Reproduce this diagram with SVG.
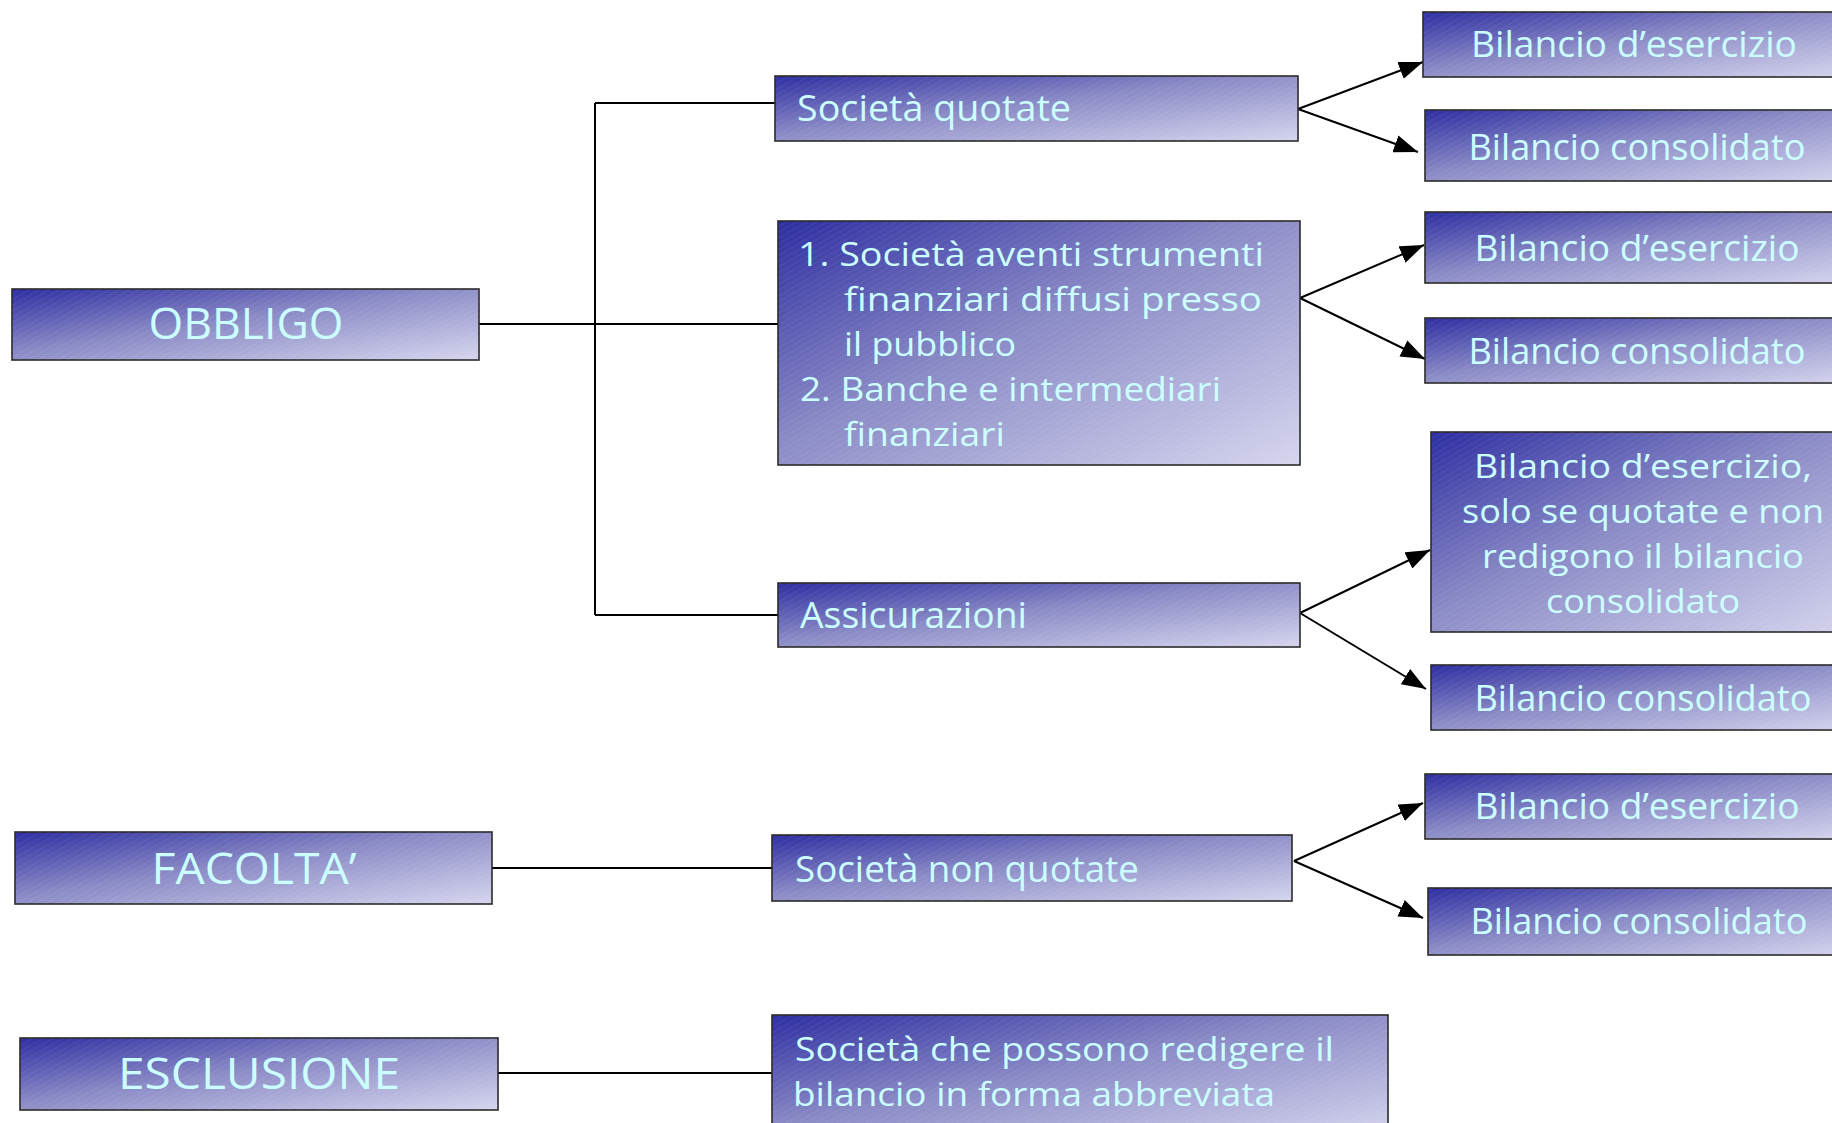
<svg xmlns="http://www.w3.org/2000/svg" width="1832" height="1123" viewBox="0 0 1832 1123">
<defs>
<linearGradient id="g" x1="0" y1="0" x2="1" y2="1">
<stop offset="0" stop-color="#2e2ea2"/>
<stop offset="0.45" stop-color="#8a8ac6"/>
<stop offset="1" stop-color="#d6d6ef"/>
</linearGradient>
<pattern id="tex" width="5" height="5" patternUnits="userSpaceOnUse" patternTransform="rotate(-30)">
<line x1="0" y1="0" x2="5" y2="0" stroke="#ffffff" stroke-opacity="0.08" stroke-width="1.5"/>
</pattern>
<marker id="arr" markerUnits="userSpaceOnUse" markerWidth="24" markerHeight="18" refX="24" refY="9" orient="auto">
<path d="M0,0 L24,9 L0,18 z" fill="#000"/>
</marker>
</defs>
<style>
.box{fill:url(#g);stroke:#2a2a2a;stroke-width:1.6}
.tx{fill:url(#tex);stroke:none}
text{font-family:"Open Sans","DejaVu Sans",sans-serif;fill:#ccffff;font-size:36px}
.big{font-size:43px}
.m{font-size:32.5px}
.c{text-anchor:middle}
.ln{fill:none;stroke:#000;stroke-width:2}
.ar{fill:none;stroke:#000;stroke-width:2;marker-end:url(#arr)}
</style>
<rect width="1832" height="1123" fill="#ffffff"/>

<g id="connectors">
<path class="ln" d="M479,324 H595 M595,103 V615 M595,103 H775 M595,324 H778 M595,615 H778"/>
<path class="ln" d="M492,868 H772"/>
<path class="ln" d="M498,1073 H772"/>
<path class="ar" d="M1298,109 L1423,62"/>
<path class="ar" d="M1298,109 L1418,152"/>
<path class="ar" d="M1300,298 L1424,245"/>
<path class="ar" d="M1300,298 L1425,359"/>
<path class="ar" d="M1300,613 L1430,550"/>
<path class="ar" d="M1300,613 L1426,689"/>
<path class="ar" d="M1294,861 L1423,803"/>
<path class="ar" d="M1294,861 L1423,918"/>
</g>

<g id="obbligo">
<rect class="box" x="12" y="289" width="467" height="71"/><rect class="tx" x="12" y="289" width="467" height="71"/>
<text class="big c" x="246" y="339" textLength="195" lengthAdjust="spacingAndGlyphs">OBBLIGO</text>
</g>
<g id="facolta">
<rect class="box" x="15" y="832" width="477" height="72"/><rect class="tx" x="15" y="832" width="477" height="72"/>
<text class="big c" x="254" y="884" textLength="205" lengthAdjust="spacingAndGlyphs">FACOLTA’</text>
</g>
<g id="esclusione">
<rect class="box" x="20" y="1038" width="478" height="72"/><rect class="tx" x="20" y="1038" width="478" height="72"/>
<text class="big c" x="259" y="1089" textLength="282" lengthAdjust="spacingAndGlyphs">ESCLUSIONE</text>
</g>

<g id="quotate">
<rect class="box" x="775" y="76" width="523" height="65"/><rect class="tx" x="775" y="76" width="523" height="65"/>
<text x="797" y="121" textLength="274" lengthAdjust="spacingAndGlyphs">Società quotate</text>
</g>
<g id="strumenti">
<rect class="box" x="778" y="221" width="522" height="244"/><rect class="tx" x="778" y="221" width="522" height="244"/>
<text class="m" x="798" y="266" textLength="466" lengthAdjust="spacingAndGlyphs">1. Società aventi strumenti</text>
<text class="m" x="844" y="311" textLength="418" lengthAdjust="spacingAndGlyphs">finanziari diffusi presso</text>
<text class="m" x="844" y="356" textLength="172" lengthAdjust="spacingAndGlyphs">il pubblico</text>
<text class="m" x="800" y="401" textLength="421" lengthAdjust="spacingAndGlyphs">2. Banche e intermediari</text>
<text class="m" x="844" y="446" textLength="161" lengthAdjust="spacingAndGlyphs">finanziari</text>
</g>
<g id="assicurazioni">
<rect class="box" x="778" y="583" width="522" height="64"/><rect class="tx" x="778" y="583" width="522" height="64"/>
<text x="800" y="628" textLength="227" lengthAdjust="spacingAndGlyphs">Assicurazioni</text>
</g>
<g id="nonquotate">
<rect class="box" x="772" y="835" width="520" height="66"/><rect class="tx" x="772" y="835" width="520" height="66"/>
<text x="795" y="882" textLength="344" lengthAdjust="spacingAndGlyphs">Società non quotate</text>
</g>
<g id="abbreviata">
<rect class="box" x="772" y="1015" width="616" height="124"/><rect class="tx" x="772" y="1015" width="616" height="124"/>
<text class="m" x="795" y="1061" textLength="539" lengthAdjust="spacingAndGlyphs">Società che possono redigere il</text>
<text class="m" x="793" y="1106" textLength="482" lengthAdjust="spacingAndGlyphs">bilancio in forma abbreviata</text>
</g>

<g id="b1">
<rect class="box" x="1423" y="12" width="430" height="65"/><rect class="tx" x="1423" y="12" width="430" height="65"/>
<text class="c" x="1634" y="57" textLength="326" lengthAdjust="spacingAndGlyphs">Bilancio d’esercizio</text>
</g>
<g id="b2">
<rect class="box" x="1425" y="110" width="430" height="71"/><rect class="tx" x="1425" y="110" width="430" height="71"/>
<text class="c" x="1637" y="160" textLength="337" lengthAdjust="spacingAndGlyphs">Bilancio consolidato</text>
</g>
<g id="b3">
<rect class="box" x="1425" y="212" width="430" height="71"/><rect class="tx" x="1425" y="212" width="430" height="71"/>
<text class="c" x="1637" y="261" textLength="325" lengthAdjust="spacingAndGlyphs">Bilancio d’esercizio</text>
</g>
<g id="b4">
<rect class="box" x="1425" y="318" width="430" height="65"/><rect class="tx" x="1425" y="318" width="430" height="65"/>
<text class="c" x="1637" y="364" textLength="337" lengthAdjust="spacingAndGlyphs">Bilancio consolidato</text>
</g>
<g id="b5">
<rect class="box" x="1431" y="432" width="430" height="200"/><rect class="tx" x="1431" y="432" width="430" height="200"/>
<text class="m c" x="1643" y="478" textLength="338" lengthAdjust="spacingAndGlyphs">Bilancio d’esercizio,</text>
<text class="m c" x="1643" y="523" textLength="362" lengthAdjust="spacingAndGlyphs">solo se quotate e non</text>
<text class="m c" x="1643" y="568" textLength="322" lengthAdjust="spacingAndGlyphs">redigono il bilancio</text>
<text class="m c" x="1643" y="613" textLength="194" lengthAdjust="spacingAndGlyphs">consolidato</text>
</g>
<g id="b6">
<rect class="box" x="1431" y="665" width="430" height="65"/><rect class="tx" x="1431" y="665" width="430" height="65"/>
<text class="c" x="1643" y="711" textLength="337" lengthAdjust="spacingAndGlyphs">Bilancio consolidato</text>
</g>
<g id="b7">
<rect class="box" x="1425" y="774" width="430" height="65"/><rect class="tx" x="1425" y="774" width="430" height="65"/>
<text class="c" x="1637" y="819" textLength="325" lengthAdjust="spacingAndGlyphs">Bilancio d’esercizio</text>
</g>
<g id="b8">
<rect class="box" x="1428" y="888" width="430" height="67"/><rect class="tx" x="1428" y="888" width="430" height="67"/>
<text class="c" x="1639" y="934" textLength="337" lengthAdjust="spacingAndGlyphs">Bilancio consolidato</text>
</g>
</svg>
